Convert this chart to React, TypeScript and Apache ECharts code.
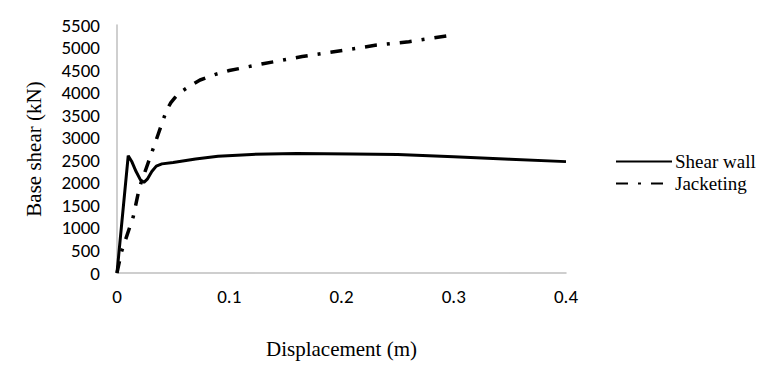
import React, { useEffect, useRef } from "react";
import * as echarts from "echarts";

const shearWall: [number, number][] = [
  [0, 0], [0.01, 2600], [0.013, 2480], [0.017, 2250], [0.021, 2060], [0.024, 2010],
  [0.027, 2080], [0.031, 2250], [0.035, 2370], [0.04, 2420], [0.05, 2450], [0.07, 2530],
  [0.09, 2590], [0.12, 2630], [0.16, 2650], [0.21, 2640], [0.25, 2630], [0.3, 2580],
  [0.35, 2525], [0.4, 2470],
];
const jacketing: [number, number][] = [
  [0, 0], [0.004, 470], [0.0145, 1250], [0.02, 1900], [0.03, 2600], [0.037, 3100],
  [0.044, 3600], [0.048, 3780], [0.052, 3900], [0.056, 4000], [0.062, 4100], [0.074, 4280],
  [0.087, 4400], [0.1, 4490], [0.13, 4640], [0.165, 4800], [0.205, 4950], [0.23, 5050],
  [0.26, 5130], [0.3, 5280],
];
const seriesNames = ["Shear wall", "Jacketing"];

const SERIF = "'Liberation Serif', 'Times New Roman', serif";
const SANS = "Carlito, Lato, sans-serif";

export default function App() {
  const ref = useRef<HTMLDivElement>(null);
  useEffect(() => {
    const chart = echarts.init(ref.current!, null, { renderer: "svg" });
    chart.setOption({
      animation: false,
      backgroundColor: "#ffffff",
      textStyle: { fontFamily: SERIF },
      grid: { left: 117, right: 209, top: 25, bottom: 94 },
      legend: {
        orient: "vertical",
        left: 610,
        top: 147,
        itemWidth: 56,
        itemHeight: 12,
        itemGap: 3,
        itemStyle: { opacity: 0 },
        textStyle: { fontFamily: SERIF, fontSize: 19, color: "#000", padding: [0, 0, 0, -2] },
        data: seriesNames,
      },
      xAxis: {
        type: "value",
        min: 0,
        max: 0.4,
        interval: 0.1,
        name: "Displacement (m)",
        nameLocation: "middle",
        nameGap: 65,
        nameTextStyle: { fontFamily: SERIF, fontSize: 21, color: "#000" },
        axisLine: { show: true, lineStyle: { color: "#bfbfbf", width: 1.5 } },
        axisTick: { show: false },
        splitLine: { show: false },
        axisLabel: { fontFamily: SANS, fontSize: 19, color: "#000", margin: 14 },
      },
      yAxis: {
        type: "value",
        min: 0,
        max: 5500,
        interval: 500,
        name: "Base shear (kN)",
        nameLocation: "middle",
        nameGap: 73,
        nameTextStyle: { fontFamily: SERIF, fontSize: 21, color: "#000" },
        axisLine: { show: true, lineStyle: { color: "#bfbfbf", width: 1.5 } },
        axisTick: { show: false },
        splitLine: { show: false },
        axisLabel: {
          fontFamily: SANS,
          fontSize: 19,
          color: "#000",
          margin: 17,
          formatter: (v: number) => String(v),
        },
      },
      series: [
        {
          name: seriesNames[0],
          type: "line",
          data: shearWall,
          symbol: "none",
          smooth: false,
          lineStyle: { color: "#000", width: 3, type: "solid" },
          itemStyle: { color: "#000" },
        },
        {
          name: seriesNames[1],
          type: "line",
          data: jacketing,
          symbol: "none",
          smooth: false,
          lineStyle: { color: "#000", width: 3.5, type: [12, 10, 3, 10] },
          itemStyle: { color: "#000" },
        },
      ],
    });
    return () => chart.dispose();
  }, []);
  return <div ref={ref} style={{ width: 775, height: 367, position: "absolute", left: 0, top: 0 }} />;
}
